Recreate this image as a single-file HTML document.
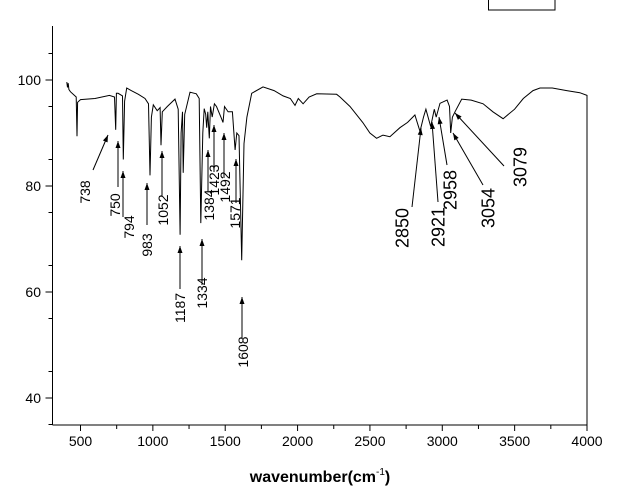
<!DOCTYPE html>
<html><head><meta charset="utf-8"><style>
html,body{margin:0;padding:0;background:#fff;}
svg{display:block;font-family:"Liberation Sans",Arial,sans-serif;}
</style></head><body>
<svg id="chart" width="636" height="493" viewBox="0 0 636 493">
<g id="axes"></g>
<g id="series"></g>
<g id="annots"></g>
<rect x="488.5" y="-2" width="66.5" height="12" fill="none" stroke="#000"/>
<text x="320" y="482" text-anchor="middle" font-size="16" font-weight="bold">wavenumber(cm<tspan dy="-7" font-size="10" font-weight="normal">-1</tspan><tspan dy="7">)</tspan></text>
</svg>
<script>
const xTicks=[500,1000,1500,2000,2500,3000,3500,4000];
const yTicks=[40,60,80,100];
const wavenumbers=[405,410,415,420,430,470,476,480,500,600,700,735,743,748,760,790,796,805,819,850,900,946,970,980,990,1003,1030,1050,1056,1065,1100,1153,1175,1188,1195,1205,1210,1220,1257,1300,1320,1331,1345,1355,1365,1372,1380,1390,1398,1410,1425,1440,1470,1485,1495,1520,1550,1568,1580,1595,1614,1630,1650,1683,1761,1838,1900,1950,1982,2005,2038,2080,2132,2270,2293,2362,2450,2500,2546,2590,2638,2707,2760,2811,2846,2870,2887,2920,2945,2958,2984,3033,3050,3058,3070,3088,3134,3200,3282,3350,3420,3500,3560,3627,3675,3760,3860,3950,4000];
const transmittance=[99.6,98.6,99.4,98.2,97.8,96.8,89.4,95.8,96.3,96.5,97.1,96.8,90.6,97.5,97.5,97,85,96,98.5,98,97.3,96.5,95.5,82,93,95.3,94.2,94.8,87.7,94,95,96.4,94.5,70.8,90,94,82.5,93.5,97.7,97.4,96.5,73,90,94.6,93.5,91,94,89,95,93,95.5,95,93,92,95,94,94,86.8,90,89.5,66,88,93,97.5,98.7,98,97,96.5,95.2,96.5,95.5,96.8,97.4,97.3,96.8,95,92,90,89,89.6,89.3,91,92,93.4,90.3,93,94.5,91.2,94.5,93,95.6,96.2,95,90,93,94,96.4,96.2,95.5,94,92.7,94.5,96.5,98,98.5,98.5,98,97.6,97.1];
const peakLabels=["738","750","794","983","1052","1187","1334","1384","1423","1492","1571","1608","2850","2921","2958","3054","3079"];
const NS="http://www.w3.org/2000/svg";
const X0=52.5,XR=587,Y0=425,YT=26;
function sx(w){return 80.5+(w-500)*(587-80.5)/3500;}
function sy(t){return 80+(100-t)*5.3;}
function mk(tag,attrs,parent){const e=document.createElementNS(NS,tag);for(const k in attrs)e.setAttribute(k,attrs[k]);parent.appendChild(e);return e;}
const axes=document.getElementById('axes');
let l=mk('line',{x1:X0,y1:YT,x2:X0,y2:Y0,stroke:'#000'},axes);


l=mk('line',{x1:X0,y1:Y0,x2:XR,y2:Y0,stroke:'#000'},axes);


for(let w=500;w<=4000;w+=250){const major=xTicks.includes(w);const t=mk('line',{x1:sx(w),y1:Y0,x2:sx(w),y2:Y0+(major?6:4),stroke:'#000'},axes);

}
xTicks.forEach(w=>{const t=mk('text',{x:sx(w),y:446,'text-anchor':'middle','font-size':14},axes);t.textContent=w;

});
for(let v=35;v<=110;v+=10){const y=sy(v);if(y<YT||y>Y0)continue;const t=mk('line',{x1:X0,y1:y,x2:X0-4,y2:y,stroke:'#000'},axes);

}
yTicks.forEach(v=>{const y=sy(v);const t=mk('line',{x1:X0,y1:y,x2:X0-7,y2:y,stroke:'#000'},axes);


const tx=mk('text',{x:41,y:y+5,'text-anchor':'end','font-size':14},axes);tx.textContent=v;

});
const series=document.getElementById('series');
let d='';wavenumbers.forEach((w,i)=>{d+=(i?'L':'M')+sx(w).toFixed(1)+','+sy(transmittance[i]).toFixed(1);});
d+='L'+sx(4000).toFixed(1)+','+Y0;
const p=mk('path',{d:d,fill:'none',stroke:'#000','stroke-width':1},series);


const geom=[[93,170,108,135,85,192,14],[118,187,118,141,115,205,14],[123,217,123,171,129,227,14],[147,225,147,183,147,245,14],[162,196,162,151,163,210,14],[180,289,180,246,180,308,14],[202,285,202,239,202,293,14],[208,192,208,150,209,205,14],[214,172,214,125,214,180,14],[224,178,224,133,225,187,14],[236,203,236,159,235,213,14],[242,338,242,297,243,352,14],[412,207,421,128,402,228,18],[438,202,432,122,438,227,18],[447,165,439,117,450,190,18],[483,185,453,133,488,208,18],[504,166,455,113,520,167,18]];
const an=document.getElementById('annots');
peakLabels.forEach((lab,i)=>{const g=geom[i];
const ln=mk('line',{x1:g[0],y1:g[1],x2:g[2],y2:g[3],stroke:'#000','stroke-width':1},an);


const a=Math.atan2(g[3]-g[1],g[2]-g[0]);const L=7,W=2.5;
const bx=g[2]-L*Math.cos(a),by=g[3]-L*Math.sin(a);
const hp=mk('polygon',{points:`${g[2]},${g[3]} ${bx-W*Math.sin(a)},${by+W*Math.cos(a)} ${bx+W*Math.sin(a)},${by-W*Math.cos(a)}`,fill:'#000'},an);


const t=mk('text',{x:0,y:0,'text-anchor':'middle','font-size':g[6],transform:`translate(${g[4]+g[6]*0.36},${g[5]}) rotate(-90)`},an);t.textContent=lab;

});
</script>
</body></html>
